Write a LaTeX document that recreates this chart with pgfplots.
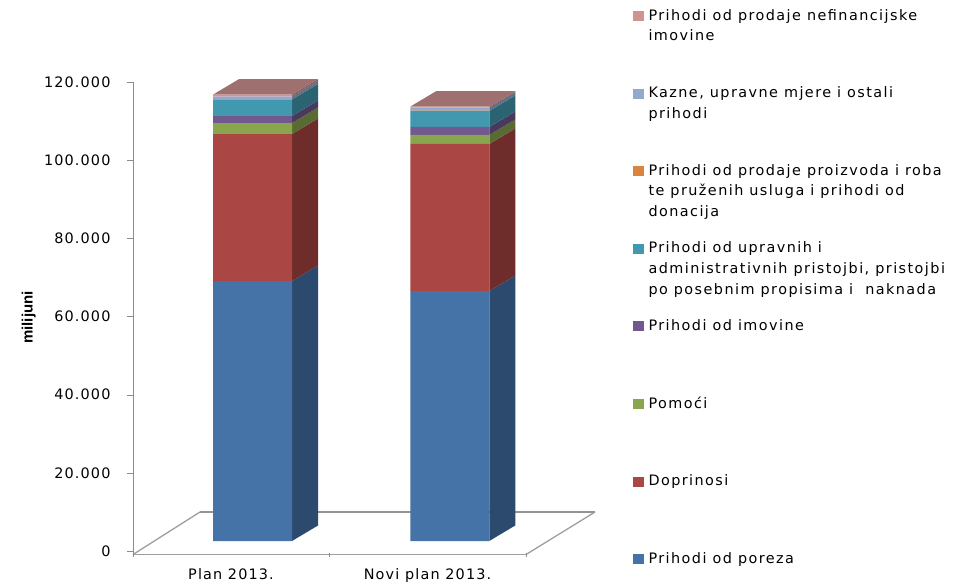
\documentclass[border=0pt]{standalone}
\usepackage{fontspec}
\setmainfont[LetterSpace=8]{DejaVu Sans}
\newfontfamily\lab{Liberation Sans}
\newfontfamily\leg[LetterSpace=10]{DejaVu Sans}
\usepackage{pgfplots}
\usepackage{pgfplotstable}
\pgfplotsset{compat=1.18}

% px per unit: 469px = 120000
\definecolor{cblue}{HTML}{4572A7}
\definecolor{cred}{HTML}{AA4643}
\definecolor{cgreen}{HTML}{89A54E}
\definecolor{cpurple}{HTML}{71588F}
\definecolor{cteal}{HTML}{4198AF}
\definecolor{corange}{HTML}{DB843D}
\definecolor{clight}{HTML}{93A9CF}
\definecolor{cpink}{HTML}{D19392}
\definecolor{sblue}{HTML}{2C4A6E}
\definecolor{sred}{HTML}{6E2C2B}
\definecolor{sgreen}{HTML}{596B32}
\definecolor{spurple}{HTML}{49395D}
\definecolor{steal}{HTML}{2A6372}
\definecolor{slight}{HTML}{607087}
\definecolor{spink}{HTML}{88605F}
\definecolor{ctop}{HTML}{9E706F}

\pgfplotstableread{
x      blue  red   green purple teal orange light pink
252.5  66524 37612 2814  1791   4222 100    640   512
449.75 63966 37612 2303  2047   4094 100    768   256
}\revenue

\newcommand\entry[1]{\parbox[t]{305pt}{\leg\fontsize{14.4}{20.6}\selectfont #1}}

\pgfplotsset{
  frame/.style={
    at={(133pt,31pt)}, anchor=south west, scale only axis,
    width=393pt, height=469pt, xmin=133, xmax=526, clip=false},
  raised/.style={frame, hide axis, ymin=-2559, ymax=117441},
  face/.style={fill=#1, draw=none, forget plot},
}

\begin{document}
\begin{tikzpicture}[x=1pt,y=1pt]
\path[use as bounding box] (0,0) rectangle (958,582);

% value axis and floor
\begin{axis}[
    frame,
    ymin=0, ymax=120000,
    axis y line*=left, axis x line*=bottom,
    x axis line style={draw=none},
    y axis line style={draw=black!45},
    ytick={0,20000,40000,60000,80000,100000,120000},
    yticklabels={0,20.000,40.000,60.000,80.000,100.000,120.000},
    ytick style={draw=black!45},
    tick align=outside,
    major tick length=6pt,
    xtick={231,427.5},
    xticklabels={Plan 2013.,Novi plan 2013.},
    x tick style={draw=none},
    xticklabel style={font=\fontsize{14.4}{16}\selectfont, yshift=-8pt},
    yticklabel style={font=\fontsize{14.4}{16}\selectfont, xshift=-13pt},
    scaled y ticks=false,
    ylabel={\lab\bfseries milijuni},
    ylabel style={font=\fontsize{15}{17}\selectfont, at={(axis description cs:-0.265,0.498)}, anchor=center},
]
\addplot[draw=black!42, line width=2.6pt] coordinates {(200,9979) (595,9979)};
\addplot[draw=black!38, line width=1.3pt] coordinates {(133,-900) (200,9979)};
\addplot[draw=black!38, line width=1.3pt] coordinates {(526,-900) (595,9979)};
\addplot[draw=black!38, line width=1.3pt] coordinates {(133,-900) (526,-900)};
\addplot[draw=black!45] coordinates {(133,0) (133,-1500)};
\addplot[draw=black!45] coordinates {(329.5,-400) (329.5,-1500)};
\addplot[draw=black!45] coordinates {(526,-400) (526,-1500)};
\end{axis}

% side and top faces of the columns (front value + 15.5px of depth)
\begin{axis}[raised]
\addplot[face=sblue]   coordinates {(292,0) (318,3966) (318,70490) (292,66524)};
\addplot[face=sred]    coordinates {(292,66524) (318,70490) (318,108102) (292,104136)};
\addplot[face=sgreen]  coordinates {(292,104136) (318,108102) (318,110916) (292,106950)};
\addplot[face=spurple] coordinates {(292,106950) (318,110916) (318,112707) (292,108741)};
\addplot[face=steal]   coordinates {(292,108741) (318,112707) (318,116929) (292,112963)};
\addplot[face=slight]  coordinates {(292,112963) (318,116929) (318,117669) (292,113703)};
\addplot[face=spink]   coordinates {(292,113703) (318,117669) (318,118181) (292,114215)};
\addplot[face=ctop]    coordinates {(213,114215) (292,114215) (318,118181) (239,118181)};

\addplot[face=sblue]   coordinates {(489.25,0) (515.25,3966) (515.25,67932) (489.25,63966)};
\addplot[face=sred]    coordinates {(489.25,63966) (515.25,67932) (515.25,105544) (489.25,101578)};
\addplot[face=sgreen]  coordinates {(489.25,101578) (515.25,105544) (515.25,107847) (489.25,103881)};
\addplot[face=spurple] coordinates {(489.25,103881) (515.25,107847) (515.25,109894) (489.25,105928)};
\addplot[face=steal]   coordinates {(489.25,105928) (515.25,109894) (515.25,113988) (489.25,110022)};
\addplot[face=slight]  coordinates {(489.25,110022) (515.25,113988) (515.25,114856) (489.25,110890)};
\addplot[face=spink]   coordinates {(489.25,110890) (515.25,114856) (515.25,115112) (489.25,111146)};
\addplot[face=ctop]    coordinates {(410.25,111146) (489.25,111146) (515.25,115112) (436.25,115112)};
\end{axis}

% front faces
\begin{axis}[
    raised,
    ybar stacked,
    bar width=79,
    reverse legend,
    legend style={
      at={(axis cs:633,136373)}, anchor=north west, draw=none, fill=none,
      inner sep=0pt, outer sep=0pt, row sep=0pt, column sep=5pt,
      cells={anchor=base west},
      nodes={inner sep=0pt, outer sep=0pt, text height=12pt, text depth=65.6pt}},
    legend image code/.code={\fill[#1] (0pt,-1pt) rectangle (10.5pt,9pt);},
]
\addplot[fill=cblue,draw=none]   table[x=x,y=blue]   {\revenue}; \addlegendentry{\entry{Prihodi od poreza}}
\addplot[fill=cred,draw=none]    table[x=x,y=red]    {\revenue}; \addlegendentry{\entry{Doprinosi}}
\addplot[fill=cgreen,draw=none]  table[x=x,y=green]  {\revenue}; \addlegendentry{\entry{Pomoći}}
\addplot[fill=cpurple,draw=none] table[x=x,y=purple] {\revenue}; \addlegendentry{\entry{Prihodi od imovine}}
\addplot[fill=cteal,draw=none]   table[x=x,y=teal]   {\revenue}; \addlegendentry{\entry{Prihodi od upravnih i\\administrativnih pristojbi, pristojbi\\po posebnim propisima i\ \ naknada}}
\addplot[fill=corange,draw=none] table[x=x,y=orange] {\revenue}; \addlegendentry{\entry{Prihodi od prodaje proizvoda i roba\\te pruženih usluga i prihodi od\\donacija}}
\addplot[fill=clight,draw=none]  table[x=x,y=light]  {\revenue}; \addlegendentry{\entry{Kazne, upravne mjere i ostali\\prihodi}}
\addplot[fill=cpink,draw=none]   table[x=x,y=pink]   {\revenue}; \addlegendentry{\entry{Prihodi od prodaje nefinancijske\\imovine}}
\end{axis}
\end{tikzpicture}
\end{document}
